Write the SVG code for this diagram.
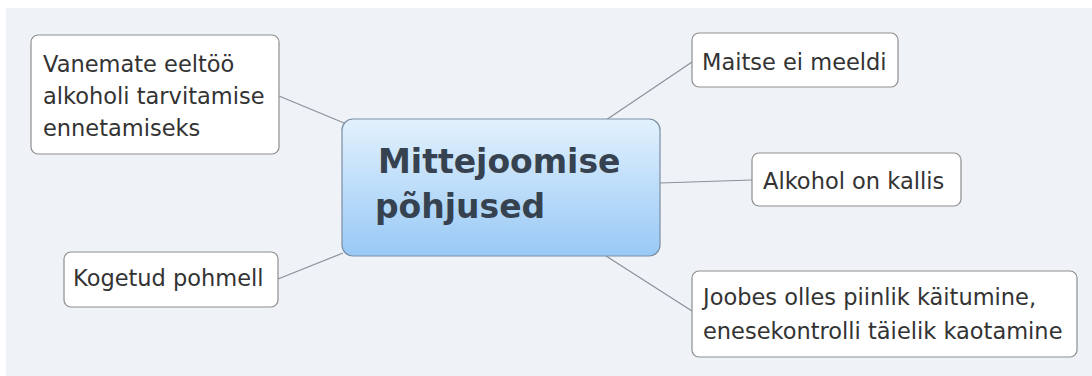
<svg xmlns="http://www.w3.org/2000/svg" width="1092" height="376" viewBox="0 0 1092 376">
<defs>
<linearGradient id="cg" x1="0" y1="0" x2="0" y2="1">
<stop offset="0" stop-color="#e2f1fd"/>
<stop offset="1" stop-color="#98c9f5"/>
</linearGradient>
<style>
.box{fill:#ffffff;stroke:#8e8e8e;stroke-width:1.2}
.t{font-family:"DejaVu Sans",Verdana,sans-serif;font-size:22.5px;fill:#333333}
.c{font-family:"DejaVu Sans",Verdana,sans-serif;font-size:33px;font-weight:bold;fill:#36424f}
.ln{stroke:#8a9199;stroke-width:1.2;fill:none}
</style>
</defs>
<rect x="0" y="0" width="1092" height="376" fill="#ffffff"/>
<rect x="6" y="8" width="1086" height="368" fill="#eff3f7"/>
<g id="connectors">
<line class="ln" x1="279" y1="96" x2="344" y2="123"/>
<line class="ln" x1="278" y1="279" x2="343" y2="253"/>
<line class="ln" x1="606" y1="120" x2="692" y2="62"/>
<line class="ln" x1="660" y1="183" x2="752" y2="180"/>
<line class="ln" x1="606" y1="256" x2="692" y2="311"/>
</g>
<g id="center">
<rect x="342" y="119" width="318" height="137" rx="11" fill="url(#cg)" stroke="#7b8ea3" stroke-width="1.2"/>
<text class="c" x="378" y="173">Mittejoomise</text>
<text class="c" x="375" y="218">põhjused</text>
</g>
<g id="n-vanemate">
<rect class="box" x="31" y="35" width="248" height="119" rx="7"/>
<text class="t" x="43" y="72">Vanemate eeltöö</text>
<text class="t" x="43" y="104">alkoholi tarvitamise</text>
<text class="t" x="43" y="136">ennetamiseks</text>
</g>
<g id="n-kogetud">
<rect class="box" x="64" y="252" width="214" height="55" rx="7"/>
<text class="t" x="73" y="286">Kogetud pohmell</text>
</g>
<g id="n-maitse">
<rect class="box" x="692" y="33" width="206" height="54" rx="7"/>
<text class="t" x="702" y="70">Maitse ei meeldi</text>
</g>
<g id="n-alkohol">
<rect class="box" x="752" y="153" width="209" height="53" rx="7"/>
<text class="t" x="763" y="189">Alkohol on kallis</text>
</g>
<g id="n-joobes">
<rect class="box" x="692" y="271" width="385" height="86" rx="7"/>
<text class="t" x="703" y="305">Joobes olles piinlik käitumine,</text>
<text class="t" x="703" y="339">enesekontrolli täielik kaotamine</text>
</g>
</svg>
